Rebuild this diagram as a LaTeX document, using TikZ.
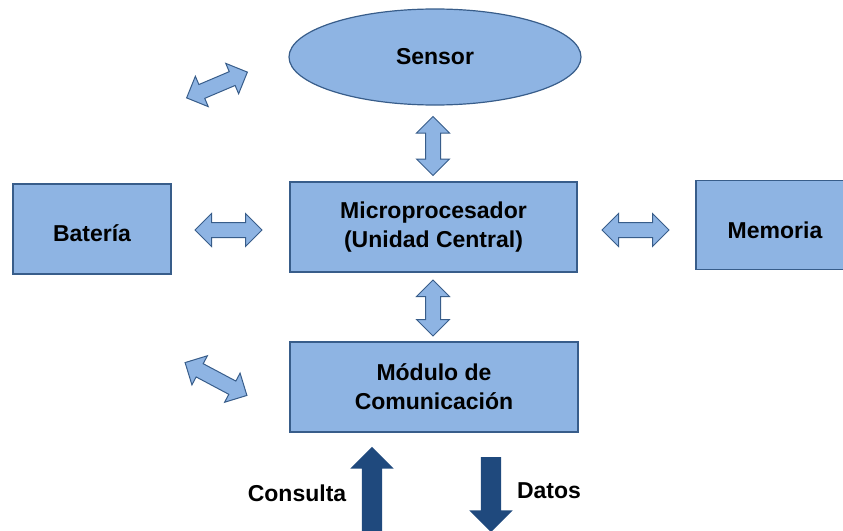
\documentclass[tikz,border=0pt]{standalone}
\usepackage{fontspec}
\setmainfont{Liberation Sans}
\usetikzlibrary{shapes.geometric,shapes.arrows}

\definecolor{relleno}{RGB}{142,180,227}
\definecolor{borde}{RGB}{56,93,138}
\definecolor{oscuro}{RGB}{31,73,125}

\tikzset{
    bloque/.style={draw=borde, fill=relleno, line width=1.2pt, align=center,
        font=\fontsize{23}{29}\selectfont\bfseries},
    flecha/.style={double arrow, draw=borde, fill=relleno, line width=1pt,
        inner xsep=0pt, inner ysep=7pt, double arrow head extend=9pt, minimum height=#1},
    envio/.style={single arrow, fill=oscuro, inner xsep=0pt, inner ysep=10pt,
        single arrow head extend=11.5pt, minimum height=#1},
    rotulo/.style={font=\fontsize{23}{29}\selectfont\bfseries}
}

\begin{document}
\begin{tikzpicture}[x=1pt, y=-1pt]
            \useasboundingbox ( 0, 0 ) rectangle ( 843, 530 );
            \clip ( 0, 0 ) rectangle ( 843, 530 );

            % bloques
            \node [bloque, ellipse, minimum width=292, minimum height=96] (sensor) at ( 435, 57 ) {Sensor};
            \node [bloque, minimum width=287, minimum height=90] (micro) at ( 433.5, 227 ) {Microprocesador\\(Unidad Central)};
            \node [bloque, minimum width=158, minimum height=90, text height=25pt] (bateria) at ( 92, 229 ) {Batería};
            \node [bloque, minimum width=158, minimum height=89, text height=27pt] (memoria) at ( 775, 225 ) {Memoria};
            \node [bloque, minimum width=288, minimum height=90] (modulo) at ( 434, 387 ) {Módulo de\\Comunicación};

            % flechas dobles
            \node [flecha=59, rotate=90] (sensor-micro) at ( 433, 146 ) {};
            \node [flecha=56, rotate=90] (micro-modulo) at ( 433, 308 ) {};
            \node [flecha=67] (bateria-micro) at ( 228.5, 230 ) {};
            \node [flecha=67] (micro-memoria) at ( 635.5, 230 ) {};
            \node [flecha=66, rotate=23] (arriba) at ( 217, 85 ) {};
            \node [flecha=70, rotate=-28] (abajo) at ( 216, 379 ) {};

            % consulta y datos
            \node [envio=100, rotate=90] (consulta) at ( 372, 502 ) {};
            \node [envio=75, rotate=-90] (datos) at ( 491, 489.5 ) {};
            \node [rotulo] (txt-consulta) at ( 297, 493 ) {Consulta};
            \node [rotulo] (txt-datos) at ( 549, 491 ) {Datos};
        \end{tikzpicture}
\end{document}
